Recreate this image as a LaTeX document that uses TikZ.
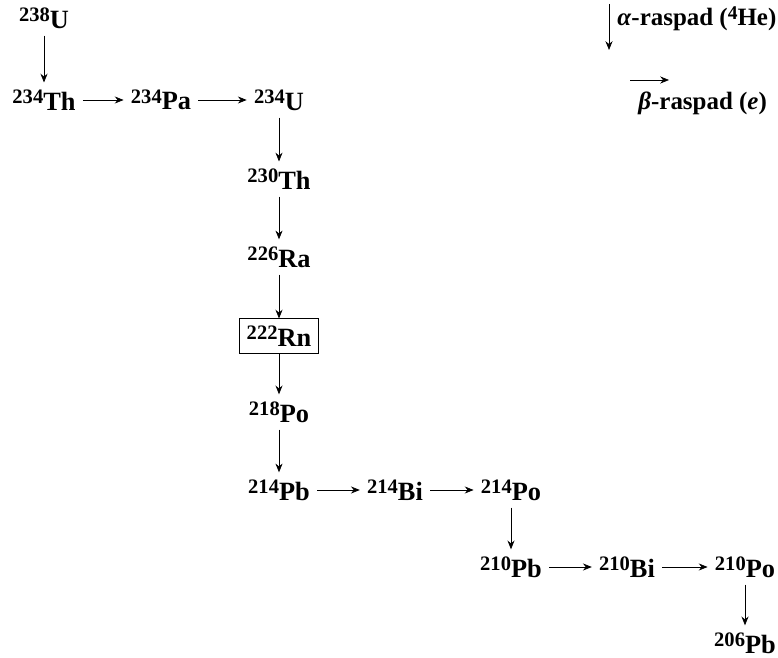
\documentclass[tikz,border=0pt]{standalone}
\usepackage{fontspec}
\setmainfont{Liberation Serif}
\usepackage{amsmath,amssymb,graphicx}
\usetikzlibrary{arrows.meta}
\tikzset{
  nuc/.style={font=\bfseries\fontsize{15}{17}\selectfont, inner sep=4pt},
  legtext/.style={font=\bfseries\fontsize{14.2}{16}\selectfont, inner sep=0pt, anchor=west},
  decay/.style={-{Stealth[length=5pt,width=4pt]}, thin},
}
\newcommand\iso[2]{\raisebox{0.55ex}{\scalebox{0.78}{#1}}#2}

\begin{document}
\begin{tikzpicture}[x=0.02cm, y=-0.02cm]
\useasboundingbox (0,0) rectangle (778,658);
\node[nuc] (u238) at (44,18) {\iso{238}{U}};
\node[nuc] (th234) at (44,100) {\iso{234}{Th}};
\node[nuc] (pa234) at (161,100) {\iso{234}{Pa}};
\node[nuc] (u234) at (279,100) {\iso{234}{U}};
%
%
\node[nuc] (th230) at (279,179) {\iso{230}{Th}};
\node[nuc] (ra226) at (279,257) {\iso{226}{Ra}};
\node[nuc, draw, inner sep=4pt] (rn222) at (279,336) {\iso{222}{Rn}};
\node[nuc] (po218) at (279,412) {\iso{218}{Po}};
\node[nuc] (pb214) at (279,490) {\iso{214}{Pb}};
\node[nuc] (bi214) at (395,490) {\iso{214}{Bi}};
\node[nuc] (po214) at (511,490) {\iso{214}{Po}};
%
%
\node[nuc] (pb210) at (511,567) {\iso{210}{Pb}};
\node[nuc] (bi210) at (627,567) {\iso{210}{Bi}};
\node[nuc] (po210) at (745,567) {\iso{210}{Po}};
\node[nuc] (pb206) at (745,643) {\iso{206}{Pb}};
%
%
\draw[decay] (u238) -- (th234);
\draw[decay] (th234) -- (pa234);
\draw[decay] (pa234) -- (u234);
\draw[decay] (u234) -- (th230);
\draw[decay] (th230) -- (ra226);
\draw[decay] (ra226) -- (rn222);
\draw[decay] (rn222) -- (po218);
\draw[decay] (po218) -- (pb214);
\draw[decay] (pb214) -- (bi214);
\draw[decay] (bi214) -- (po214);
\draw[decay] (po214) -- (pb210);
\draw[decay] (pb210) -- (bi210);
\draw[decay] (bi210) -- (po210);
\draw[decay] (po210) -- (pb206);
%
%
% legend
\coordinate (atop) at (609,4);
\coordinate (abot) at (609,50);
\coordinate (bleft) at (630,80);
\coordinate (bright) at (669,80);
\draw[decay] (atop) -- (abot);
\draw[decay] (bleft) -- (bright);
\node[legtext] (alpha) at (617,19) {\textit{α}-raspad (\iso{4}{He})};
\node[legtext] (beta) at (638,103) {\textit{β}-raspad (\textit{e})};
\end{tikzpicture}
\end{document}
